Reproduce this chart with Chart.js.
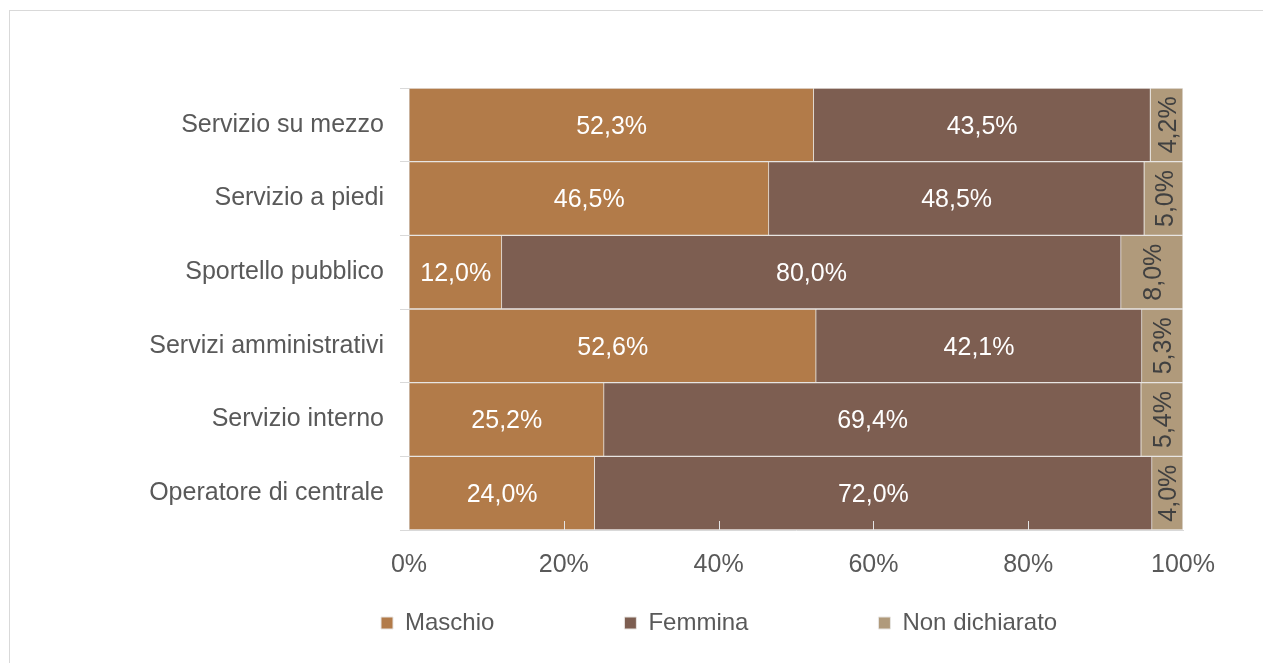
<!DOCTYPE html>
<html>
<head>
<meta charset="utf-8">
<script src="https://cdn.jsdelivr.net/npm/chart.js@4/dist/chart.umd.min.js"></script>
<style>
  html, body { margin: 0; padding: 0; background: #fff; overflow: hidden; }
  #frame { position: absolute; left: 9px; top: 10px; width: 1400px; height: 800px; border: 1px solid #d9d9d9; box-sizing: border-box; }
  #wrap { position: absolute; left: 0; top: 0; width: 1263px; height: 663px; }
</style>
</head>
<body>
<div id="frame"></div>
<div id="wrap"><canvas id="c" width="1263" height="663"></canvas></div>
<script>
const categories = ["Servizio su mezzo", "Servizio a piedi", "Sportello pubblico", "Servizi amministrativi", "Servizio interno", "Operatore di centrale"];
const seriesNames = ["Maschio", "Femmina", "Non dichiarato"];
const maschio = [52.3, 46.5, 12.0, 52.6, 25.2, 24.0];
const femmina = [43.5, 48.5, 80.0, 42.1, 69.4, 72.0];
const nonDichiarato = [4.2, 5.0, 8.0, 5.3, 5.4, 4.0];
const xTicks = [0, 20, 40, 60, 80, 100];

const colors = ["#B27B49", "#7D5E51", "#B09A7B"];
const labelColors = ["#ffffff", "#ffffff", "#404040"];
const FONT = "'Liberation Sans', Arial, sans-serif";

const fmt = v => v.toFixed(1).replace('.', ',') + '%';

const dataLabels = {
  id: 'dataLabels',
  afterDatasetsDraw(chart) {
    const ctx = chart.ctx;
    chart.data.datasets.forEach((ds, di) => {
      const meta = chart.getDatasetMeta(di);
      meta.data.forEach((bar, i) => {
        const v = ds.data[i];
        const cx = (bar.x + bar.base) / 2;
        const cy = bar.y;
        ctx.save();
        ctx.font = "25px " + FONT;
        ctx.fillStyle = labelColors[di];
        ctx.textAlign = 'center';
        ctx.textBaseline = 'middle';
        ctx.translate(cx, cy);
        if (di === 2) ctx.rotate(-Math.PI / 2);
        ctx.fillText(fmt(v), 0, 2);
        ctx.restore();
      });
    });
  }
};

const innerTicks = {
  id: 'innerTicks',
  afterDatasetsDraw(chart) {
    const ctx = chart.ctx;
    const xs = chart.scales.x;
    const bottom = chart.chartArea.bottom;
    ctx.save();
    ctx.strokeStyle = '#e4e4e4';
    ctx.lineWidth = 1;
    xTicks.slice(1, -1).forEach(t => {
      const px = Math.round(xs.getPixelForValue(t)) + 0.5;
      ctx.beginPath();
      ctx.moveTo(px, bottom);
      ctx.lineTo(px, bottom - 9);
      ctx.stroke();
    });
    ctx.restore();
  }
};

const legendPlace = {
  id: 'legendPlace',
  afterLayout(chart) {
    const l = chart.legend;
    if (l) { l.left = 371; l.right = 1263; }
  }
};

const pad = s => s + " ".repeat(18);

new Chart(document.getElementById('c'), {
  type: 'bar',
  data: {
    labels: categories,
    datasets: [maschio, femmina, nonDichiarato].map((d, i) => ({
      label: seriesNames[i],
      data: d,
      backgroundColor: colors[i],
      borderColor: '#e8e5e2',
      borderWidth: 1,
      barPercentage: 1,
      categoryPercentage: 1
    }))
  },
  options: {
    indexAxis: 'y',
    responsive: false,
    animation: false,
    layout: { padding: { left: 0, right: 80, top: 88, bottom: 18 } },
    scales: {
      x: {
        stacked: true,
        min: 0, max: 100,
        afterBuildTicks(s) { s.ticks = xTicks.map(v => ({ value: v })); },
        afterFit(s) { s.height = 71; },
        border: { color: '#d9d9d9', width: 1 },
        grid: { drawOnChartArea: false, drawTicks: false },
        ticks: {
          padding: 20,
          color: '#595959',
          font: { family: FONT, size: 25 },
          callback: v => v + '%'
        }
      },
      y: {
        stacked: true,
        afterFit(s) { s.width = 409; },
        border: { color: '#d9d9d9', width: 1 },
        grid: { drawOnChartArea: false, tickLength: 9, color: '#d9d9d9', offset: true },
        ticks: {
          padding: 16,
          color: '#595959',
          font: { family: FONT, size: 25 }
        }
      }
    },
    plugins: {
      legend: {
        position: 'bottom',
        align: 'start',
        labels: {
          boxWidth: 12,
          boxHeight: 12,
          padding: 10,
          color: '#595959',
          font: { family: FONT, size: 24 },
          generateLabels(chart) {
            return chart.data.datasets.map((ds, i) => ({
              text: i < 2 ? pad(ds.label) : ds.label,
              fillStyle: ds.backgroundColor,
              strokeStyle: '#e8e5e2',
              lineWidth: 1,
              fontColor: '#595959',
              datasetIndex: i,
              hidden: false
            }));
          }
        }
      },
      tooltip: { enabled: false }
    }
  },
  plugins: [dataLabels, innerTicks, legendPlace]
});
</script>
</body>
</html>
